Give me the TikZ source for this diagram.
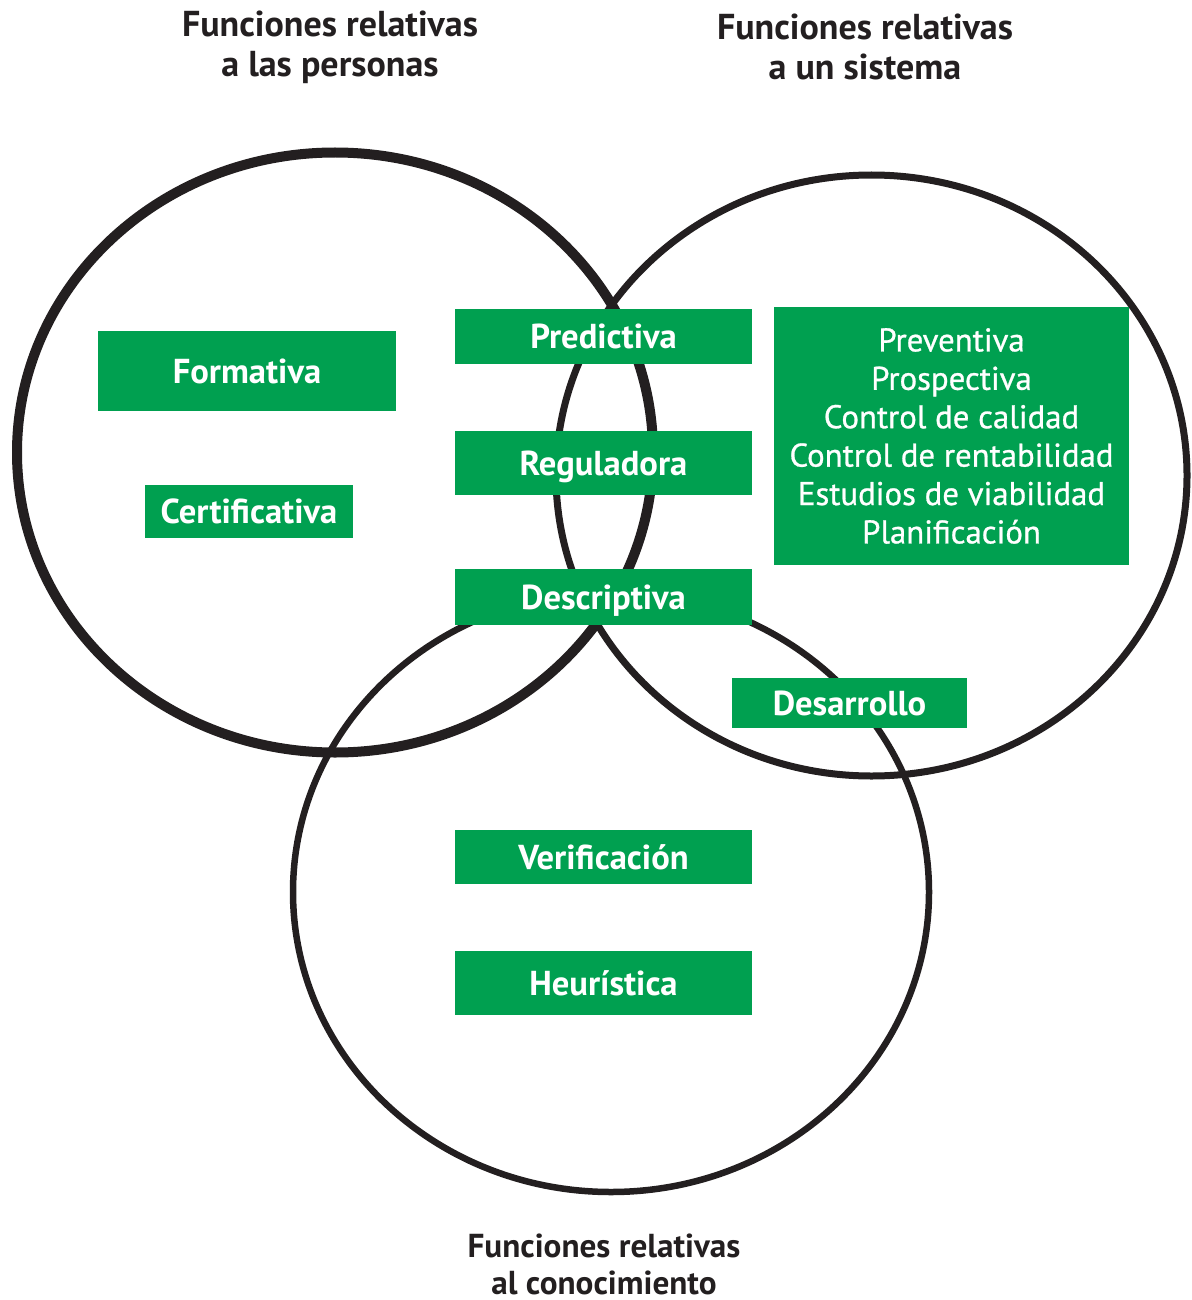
\documentclass[tikz,border=0pt]{standalone}
\usepackage{fontspec}
\setmainfont{PT Sans}
\definecolor{verde}{RGB}{0,160,80}
\definecolor{tinta}{RGB}{35,31,32}

\begin{document}
\begin{tikzpicture}[
  x=0.5pt, y=-0.5pt,
  ring/.style={draw=tinta,line width=#1},
  box/.style={fill=verde,text=white,inner sep=0pt,align=center,
              font=\bfseries\fontsize{17.3}{19}\selectfont,text height=12.1pt,text depth=0pt},
  list/.style={fill=verde,text=white,inner sep=0pt,align=center,
               font=\addfontfeatures{FakeBold=0.8}\fontsize{16.4}{19.2}\selectfont},
  hdr/.style={text=tinta,align=center,inner sep=0pt,font=\bfseries\fontsize{18}{20}\selectfont}]

\useasboundingbox (0,0) rectangle (1192,1300);

% the three sets
\draw[ring=5pt]    (335,452.5) ellipse [x radius=159pt,y radius=150pt];
\draw[ring=3.5pt]  (871.5,475.5) ellipse [x radius=157.75pt,y radius=150.25pt];
\draw[ring=3.25pt] (611,892) ellipse [x radius=159pt,y radius=150pt];

\node[hdr] (tper) at (330,47)    {Funciones relativas\\a las personas};
\node[hdr] (tsis) at (865,47)    {Funciones relativas\\a un sistema};
\node[hdr,font=\bfseries\fontsize{16.6}{18.5}\selectfont] (tcon) at (604,1264) {Funciones relativas\\al conocimiento};

\node[box,minimum width=149pt,minimum height=40pt]    (form) at (247,371)     {Formativa};
\node[box,minimum width=104pt,minimum height=26.5pt]  (cert) at (249,511.5)   {Certificativa};
\node[box,minimum width=148.5pt,minimum height=27.5pt] (pred) at (603.5,336.5) {Predictiva};
\node[box,minimum width=148.5pt,minimum height=32pt]  (regu) at (603.5,463)   {Reguladora};
\node[box,minimum width=148.5pt,minimum height=28pt]  (desc) at (603.5,597)   {Descriptiva};
\node[list,minimum width=177.5pt,minimum height=129pt] (sist) at (951.5,436)
  {Preventiva\\Prospectiva\\Control de calidad\\Control de rentabilidad\\Estudios de viabilidad\\Planificación};
\node[box,minimum width=117.5pt,minimum height=25pt]  (desa) at (849.5,703)   {Desarrollo};
\node[box,minimum width=148.5pt,minimum height=27pt]  (veri) at (603.5,857)   {Verificación};
\node[box,minimum width=148.5pt,minimum height=32pt]  (heur) at (603.5,983)   {Heurística};
\end{tikzpicture}
\end{document}
